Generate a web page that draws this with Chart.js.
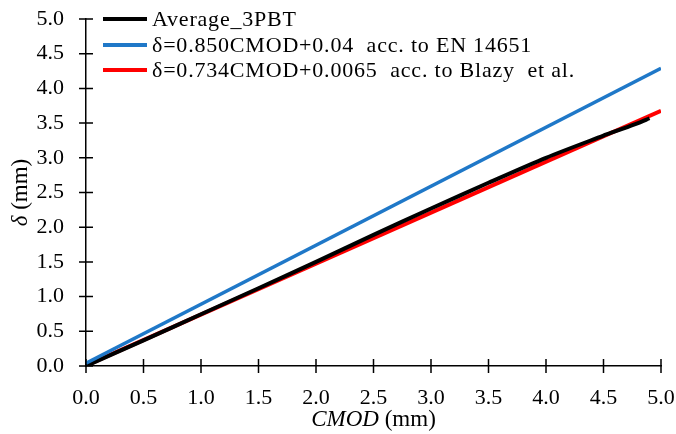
<!DOCTYPE html>
<html lang="en">
<head>
<meta charset="UTF-8">
<title>CMOD vs deflection</title>
<script src="https://cdn.jsdelivr.net/npm/chart.js"></script>
<style>
    * { margin: 0; padding: 0; box-sizing: border-box; }
    body { background: #fff; }
    .wrap { width: 676px; height: 434px; }
</style>
</head>
<body>
<div class="wrap"><canvas id="chart" width="676" height="434"></canvas></div>
<script>
    // data
    const avgX = [0, 0.5, 1.0, 1.5, 2.0, 2.5, 3.0, 3.5, 4.0, 4.5, 4.6, 4.8, 4.9];
    const avgY = [0, 0.37, 0.745, 1.12, 1.50, 1.89, 2.27, 2.64, 3.00, 3.32, 3.38, 3.50, 3.57];
    const enX = [0, 5];
    const enY = [0.04, 4.29];
    const blazyX = [0, 5];
    const blazyY = [0.0065, 3.6765];
    const xTicks = [0, 0.5, 1, 1.5, 2, 2.5, 3, 3.5, 4, 4.5, 5];
    const yTicks = [0, 0.5, 1, 1.5, 2, 2.5, 3, 3.5, 4, 4.5, 5];

    const labels = [
        'Average_3PBT',
        'δ=0.850CMOD+0.04  acc. to EN 14651',
        'δ=0.734CMOD+0.0065  acc. to Blazy  et al.'
    ];
    const colors = ['#000000', '#1f78c8', '#ff0000'];

    const toPts = (xs, ys) => xs.map((x, i) => ({ x: x, y: ys[i] }));
    const serif = '"Liberation Serif", "Times New Roman", serif';

    // crossing tick marks, axis titles and legend
    const decor = {
        id: 'decor',
        afterDraw(chart) {
            const ctx = chart.ctx;
            const xs = chart.scales.x, ys = chart.scales.y;
            const area = chart.chartArea;
            ctx.save();
            ctx.strokeStyle = '#000';
            ctx.lineWidth = 1.5;
            ctx.beginPath();
            xTicks.forEach(v => {
                const px = xs.getPixelForValue(v);
                ctx.moveTo(px, area.bottom - 7);
                ctx.lineTo(px, area.bottom + 7);
            });
            yTicks.forEach(v => {
                const py = ys.getPixelForValue(v);
                ctx.moveTo(area.left - 7, py);
                ctx.lineTo(area.left + 7, py);
            });
            ctx.stroke();

            ctx.fillStyle = '#000';
            ctx.textBaseline = 'middle';
            ctx.textAlign = 'left';
            // x title
            ctx.font = 'italic 23px ' + serif;
            const w1 = ctx.measureText('CMOD').width;
            ctx.font = '23px ' + serif;
            const w2 = ctx.measureText(' (mm)').width;
            let sx = (area.left + area.right) / 2 - (w1 + w2) / 2;
            ctx.font = 'italic 23px ' + serif;
            ctx.fillText('CMOD', sx, 420);
            ctx.font = '23px ' + serif;
            ctx.fillText(' (mm)', sx + w1, 420);

            // y title
            ctx.translate(21, (area.top + area.bottom) / 2);
            ctx.rotate(-Math.PI / 2);
            ctx.font = 'italic 23px ' + serif;
            const w3 = ctx.measureText('δ').width;
            ctx.font = '23px ' + serif;
            const w4 = ctx.measureText(' (mm)').width;
            sx = -(w3 + w4) / 2;
            ctx.font = 'italic 23px ' + serif;
            ctx.fillText('δ', sx, 0);
            ctx.font = '23px ' + serif;
            ctx.fillText(' (mm)', sx + w3, 0);
            ctx.setTransform(1, 0, 0, 1, 0, 0);

            // legend
            ctx.font = '22px ' + serif;
            ctx.letterSpacing = '0.8px';
            const rows = [19, 45, 70];
            labels.forEach((t, i) => {
                ctx.strokeStyle = colors[i];
                ctx.lineWidth = 4;
                ctx.beginPath();
                ctx.moveTo(103, rows[i]);
                ctx.lineTo(147, rows[i]);
                ctx.stroke();
                ctx.fillText(t, 152, rows[i] + 1);
            });
            ctx.restore();
        }
    };

    new Chart(document.getElementById('chart'), {
        type: 'line',
        data: {
            datasets: [
                { label: labels[1], data: toPts(enX, enY), borderColor: colors[1], borderWidth: 3.5 },
                { label: labels[0], data: toPts(avgX, avgY), borderColor: colors[0], borderWidth: 4, tension: 0.3 },
                { label: labels[2], data: toPts(blazyX, blazyY), borderColor: colors[2], borderWidth: 4 }
            ]
        },
        options: {
            responsive: false,
            animation: false,
            layout: { padding: { top: 19, right: 15, left: 0, bottom: 0 } },
            elements: { point: { radius: 0 } },
            plugins: { legend: { display: false }, tooltip: { enabled: false } },
            scales: {
                x: {
                    type: 'linear', min: 0, max: 5,
                    afterFit: s => { s.height = 68; s.paddingRight = 0; s.paddingLeft = 0; },
                    afterBuildTicks: s => { s.ticks = xTicks.map(v => ({ value: v })); },
                    grid: { display: false },
                    border: { color: '#000', width: 1.5 },
                    ticks: { color: '#000', font: { family: serif, size: 22 }, padding: 11, callback: v => v.toFixed(1) }
                },
                y: {
                    type: 'linear', min: 0, max: 5,
                    afterFit: s => { s.width = 86; s.paddingTop = 0; s.paddingBottom = 0; },
                    afterBuildTicks: s => { s.ticks = yTicks.map(v => ({ value: v })); },
                    grid: { display: false },
                    border: { color: '#000', width: 1.5 },
                    ticks: { color: '#000', font: { family: serif, size: 22 }, padding: 14, callback: v => v.toFixed(1) }
                }
            }
        },
        plugins: [decor]
    });
</script>
</body>
</html>
